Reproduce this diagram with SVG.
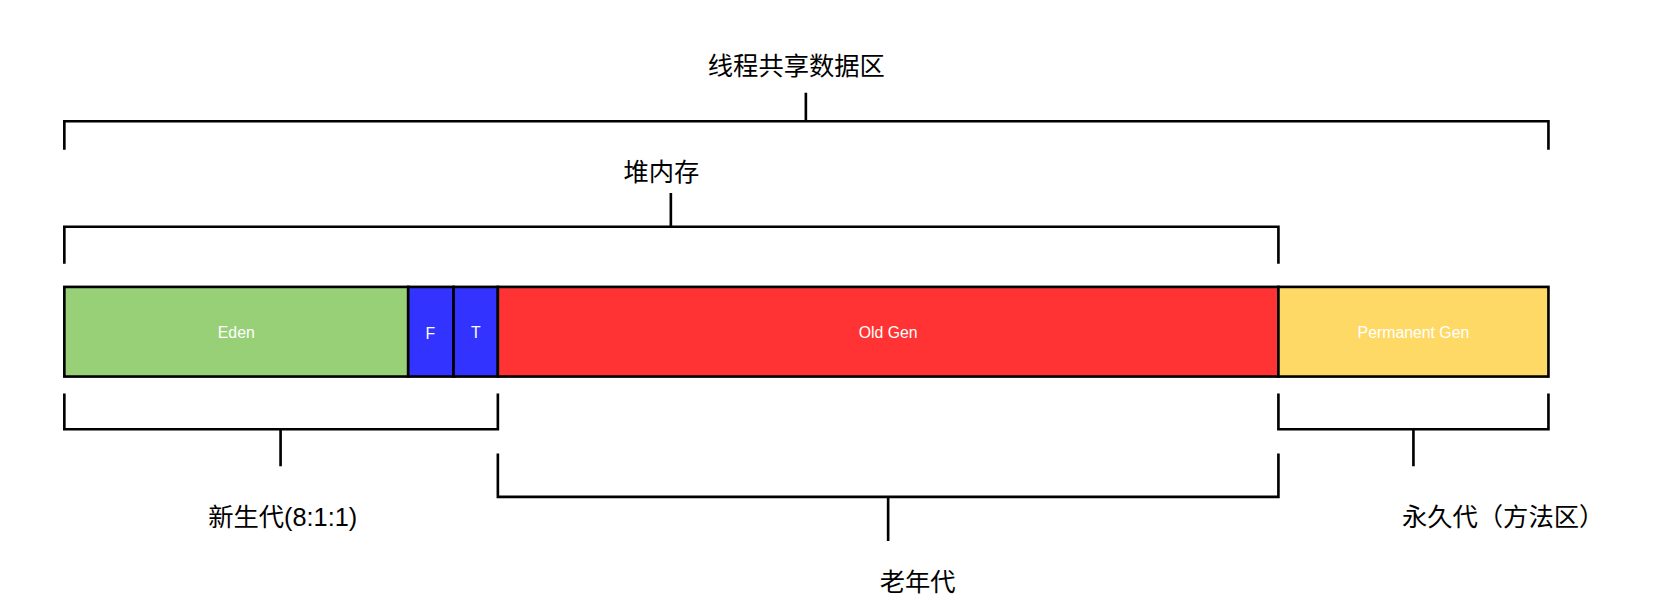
<svg xmlns="http://www.w3.org/2000/svg" width="1654" height="612" viewBox="0 0 1654 612">
<style>
.b{stroke:#000;stroke-width:2.5;fill:none}
.r{stroke:#000;stroke-width:2.5}
.w{fill:#fff;font-family:"Liberation Sans",Arial,sans-serif;font-size:15px;text-anchor:middle}
.l{fill:#000;font-family:"Liberation Sans","Noto Sans CJK SC",sans-serif;font-size:24px;text-anchor:middle}
</style>
<rect width="1654" height="612" fill="#fff"/>
<g transform="scale(1.0548)">
<g id="eden"><rect class="r" x="61" y="272" width="326" height="85" fill="#97D077"/><text class="w" x="224" y="320">Eden</text></g>
<g id="from"><rect class="r" x="387" y="272" width="43" height="85" fill="#3333FF"/><text class="w" x="408" y="321" font-size="17">F</text></g>
<g id="to"><rect class="r" x="430" y="272" width="42" height="85" fill="#3333FF"/><text class="w" x="451" y="320">T</text></g>
<g id="old"><rect class="r" x="472" y="272" width="740" height="85" fill="#FF3333"/><text class="w" x="842" y="320">Old Gen</text></g>
<g id="perm"><rect class="r" x="1212" y="272" width="256" height="85" fill="#FFD966"/><text class="w" x="1340" y="320">Permanent Gen</text></g>
<g id="connectors">
<path class="b" d="M61 142V115H1468V142M764 115V88"/>
<path class="b" d="M61 250V215H1212V250M636 215V183"/>
<path class="b" d="M61 373V407H472V373M266 407V442"/>
<path class="b" d="M472 430V471H1212V430M842 471V513"/>
<path class="b" d="M1212 373V407H1468V373M1340 407V442"/>
</g>
<g id="labels">
<text class="l" x="755" y="71">线程共享数据区</text>
<text class="l" x="627" y="172">堆内存</text>
<text class="l" x="268" y="499">新生代(8:1:1)</text>
<text class="l" x="870" y="560">老年代</text>
<text class="l" x="1425" y="499">永久代（方法区）</text>
</g>
</g>
</svg>
